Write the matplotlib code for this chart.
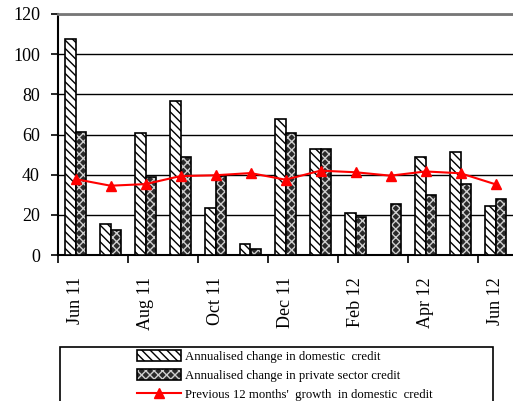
import matplotlib
matplotlib.use("Agg")
import matplotlib.pyplot as plt
import numpy as np
from matplotlib.patches import Patch, Rectangle
from matplotlib.lines import Line2D

plt.rcParams.update({
    "font.family": "Liberation Serif",
    "font.size": 13,
    "hatch.linewidth": 1.0,
})

months = ["Jun 11", "Jul 11", "Aug 11", "Sep 11", "Oct 11", "Nov 11", "Dec 11",
          "Jan 12", "Feb 12", "Mar 12", "Apr 12", "May 12", "Jun 12"]
domestic = [107.5, 15.4, 60.5, 76.5, 23.5, 5.3, 67.5, 53, 21, 0, 49, 51.2, 24.5]
private = [61.2, 12.2, 38.8, 48.8, 39.5, 3.2, 60.5, 53, 18.8, 25.5, 29.8, 35.5, 28]
growth = [37.8, 34.5, 35.3, 39.3, 39.7, 40.8, 37.5, 42, 41.2, 39.5, 41.6, 40.7, 35.2]

labels = ["Annualised change in domestic  credit",
          "Annualised change in private sector credit",
          "Previous 12 months'  growth  in domestic  credit"]

fig = plt.figure(figsize=(5.13, 4.01), dpi=100)
ax = fig.add_axes([58 / 513, 1 - 255 / 401, 455 / 513, 241 / 401])

x = np.arange(len(months))
w = 0.3

ax.bar(x - w / 2, domestic, w, facecolor="white", edgecolor="black",
       hatch="\\\\\\\\", linewidth=1.2, zorder=3)
# private: dark fill with light cross pattern, then black outline
ax.bar(x + w / 2, private, w, facecolor="#2a2a2a", edgecolor="#cfcfcf",
       hatch="xxxx", linewidth=0, zorder=3)
ax.bar(x + w / 2, private, w, facecolor="none", edgecolor="black",
       linewidth=1.2, zorder=4)

ax.plot(x, growth, color="#ff0000", lw=1.5, marker="^", ms=7, zorder=5)

ax.set_xlim(-0.5, len(months) - 0.5)
ax.set_ylim(0, 120)
ax.set_yticks(range(0, 121, 20))
ax.yaxis.grid(True, color="black", lw=1.0, zorder=0)
ax.tick_params(axis="y", direction="out", length=5, width=1.2, pad=8)

ax.set_xticks(np.arange(-0.5, len(months), 2))
ax.set_xticklabels([])
ax.tick_params(axis="x", which="major", direction="out", length=6, width=1.2)
ax.set_xticks(x[::2], minor=True)
ax.set_xticklabels(months[::2], minor=True, rotation=90)
ax.tick_params(axis="x", which="minor", length=0, pad=16)

ax.spines["right"].set_visible(False)
ax.spines["top"].set_color("#777777")
ax.spines["top"].set_linewidth(2)
ax.spines["left"].set_linewidth(1.5)
ax.spines["bottom"].set_linewidth(1.5)

# legend frame (runs past the bottom of the picture)
fig.patches.append(Rectangle((60 / 513, -0.05), 433 / 513, (401 - 347) / 401 + 0.05,
                             transform=fig.transFigure, facecolor="white",
                             edgecolor="black", lw=1.2))
handles = [
    Patch(facecolor="white", edgecolor="black", hatch="\\\\\\\\", lw=1.2),
    (Patch(facecolor="#2a2a2a", edgecolor="#cfcfcf", hatch="xxxx", lw=0),
     Patch(facecolor="none", edgecolor="black", lw=1.2)),
    Line2D([], [], color="#ff0000", lw=1.5, marker="^", ms=7),
]
fig.legend(handles, labels, loc="upper left", bbox_to_anchor=(131 / 513, 1 - 344 / 401),
           frameon=False, fontsize=9.2, handlelength=3.4, handleheight=0.9,
           handletextpad=0.3, labelspacing=0.5, borderpad=0)

fig.savefig("out.png", dpi=100)
